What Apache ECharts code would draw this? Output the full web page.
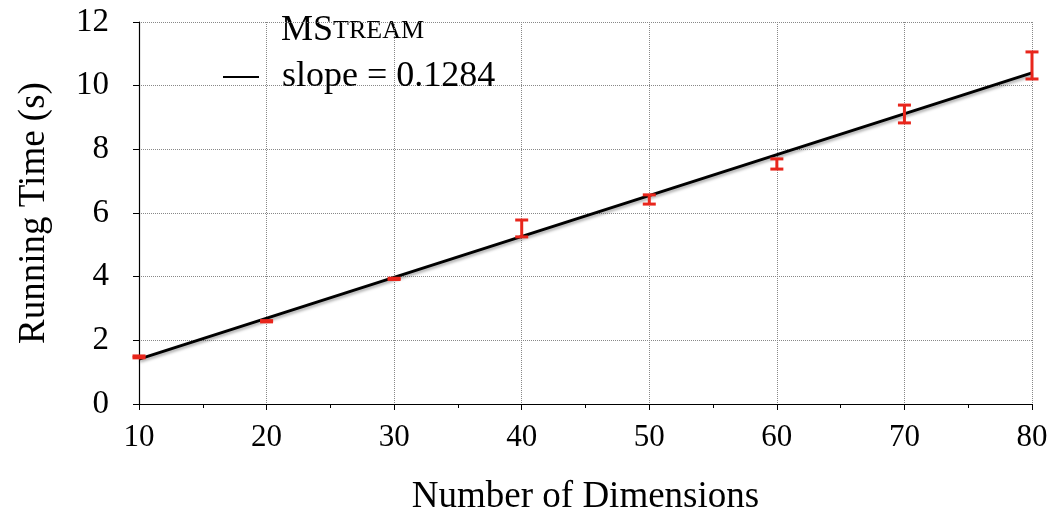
<!DOCTYPE html>
<html>
<head>
<meta charset="utf-8">
<script src="https://cdn.jsdelivr.net/npm/echarts@6/dist/echarts.min.js"></script>
<style>
  html, body { margin: 0; padding: 0; background: #fff; }
  #chart { width: 1053px; height: 513px; }
</style>
</head>
<body>
<div id="chart"></div>
<script>
// measured points: dimensions, low / high of the running time (s)
var dims = [10, 20, 30, 40, 50, 60, 70, 80];
var lowVals = [1.45, 2.58, 3.91, 5.25, 6.28, 7.38, 8.83, 10.21];
var highVals = [1.51, 2.62, 3.95, 5.78, 6.57, 7.70, 9.39, 11.06];
// fitted line end points
var fitX = [10, 80];
var fitY = [1.41, 10.40];
var slopeText = 'slope = 0.1284';

var font = '"Liberation Serif", "DejaVu Serif", serif';
var chart = echarts.init(document.getElementById('chart'));

var errData = [];
for (var i = 0; i < dims.length; i++) {
  errData.push([dims[i], lowVals[i], highVals[i]]);
}
var fitData = [];
for (var j = 0; j < fitX.length; j++) {
  fitData.push([fitX[j], fitY[j]]);
}

var option = {
  backgroundColor: '#fff',
  animation: false,
  grid: { left: 139, right: 21, top: 22, bottom: 109, outerBoundsMode: 'none' },
  legend: {
    left: 218,
    top: 54,
    itemWidth: 36,
    itemHeight: 2,
    itemGap: 0,
    data: [{ name: slopeText, icon: 'rect' }],
    textStyle: { fontFamily: font, fontSize: 36, color: '#000', padding: [0, 0, 0, 18] }
  },
  graphic: [{
    type: 'text',
    left: 281,
    top: 13,
    style: {
      text: '{a|MS}{b|TREAM}',
      rich: {
        a: { fontFamily: font, fontSize: 36, fill: '#000' },
        b: { fontFamily: font, fontSize: 26, fill: '#000' }
      }
    }
  }],
  xAxis: {
    type: 'value',
    min: 10,
    max: 80,
    interval: 10,
    name: 'Number of Dimensions',
    nameLocation: 'middle',
    nameGap: 75,
    nameTextStyle: { fontFamily: font, fontSize: 37, color: '#000' },
    axisLine: { lineStyle: { color: '#000', width: 1.2 } },
    axisTick: { length: 6, lineStyle: { color: '#000' } },
    minorTick: { show: true, splitNumber: 2, length: 4, lineStyle: { color: '#000' } },
    axisLabel: { fontFamily: font, fontSize: 31, color: '#000', margin: 18 },
    splitLine: { show: true, lineStyle: { color: '#888', type: 'dotted', width: 1 } }
  },
  yAxis: {
    type: 'value',
    min: 0,
    max: 12,
    interval: 2,
    name: 'Running Time (s)',
    nameLocation: 'middle',
    nameGap: 86,
    nameTextStyle: { fontFamily: font, fontSize: 37, color: '#000' },
    axisLine: { show: true, lineStyle: { color: '#000', width: 1.2 } },
    axisTick: { show: true, length: 6, lineStyle: { color: '#000' } },
    axisLabel: { fontFamily: font, fontSize: 33, color: '#000', margin: 30 },
    splitLine: { show: true, lineStyle: { color: '#888', type: 'dotted', width: 1 } }
  },
  series: [
    {
      name: slopeText,
      type: 'line',
      data: fitData,
      symbol: 'none',
      z: 3,
      itemStyle: { color: '#000' },
      lineStyle: {
        color: '#000', width: 3,
        shadowColor: 'rgba(0,0,0,0.35)', shadowBlur: 3, shadowOffsetX: 1, shadowOffsetY: 2
      }
    },
    {
      name: 'err',
      type: 'custom',
      data: errData,
      z: 4,
      renderItem: function (params, api) {
        var x = api.value(0);
        var lo = api.coord([x, api.value(1)]);
        var hi = api.coord([x, api.value(2)]);
        var hw = 6.5;
        var st = { stroke: '#e8261c', lineWidth: 3 };
        return {
          type: 'group',
          children: [
            { type: 'line', shape: { x1: lo[0], y1: lo[1], x2: hi[0], y2: hi[1] }, style: st },
            { type: 'line', shape: { x1: lo[0] - hw, y1: lo[1], x2: lo[0] + hw, y2: lo[1] }, style: st },
            { type: 'line', shape: { x1: hi[0] - hw, y1: hi[1], x2: hi[0] + hw, y2: hi[1] }, style: st }
          ]
        };
      }
    }
  ]
};
chart.setOption(option);
</script>
</body>
</html>
